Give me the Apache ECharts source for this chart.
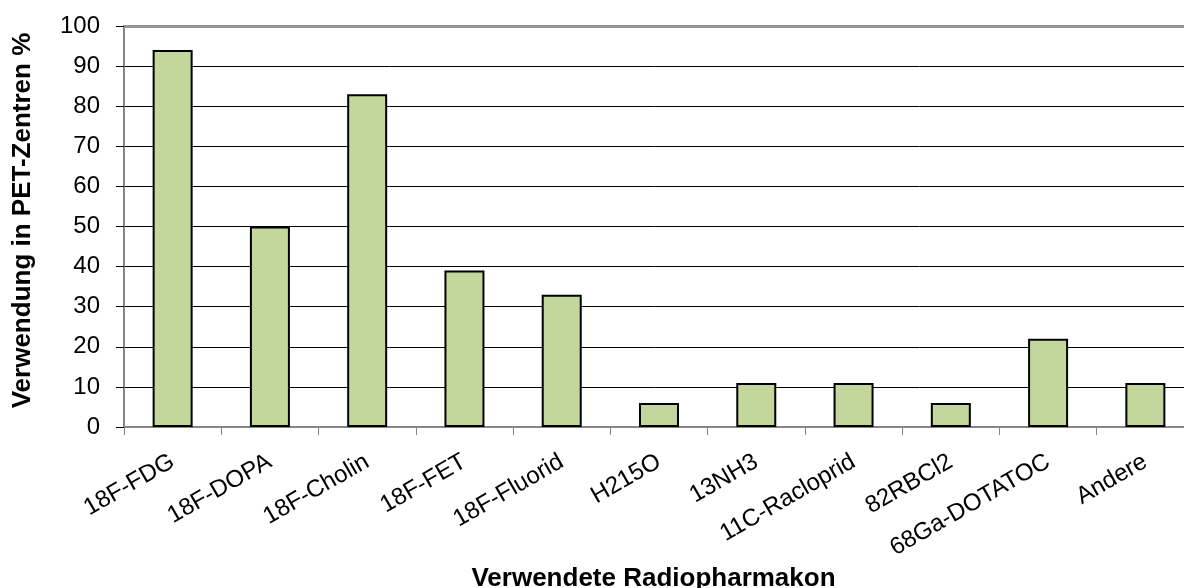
<!DOCTYPE html>
<html>
<head>
<meta charset="utf-8">
<script src="https://cdn.jsdelivr.net/npm/echarts@6/dist/echarts.min.js"></script>
<style>
  html, body { margin: 0; padding: 0; background: #fff; }
  #chart { width: 1184px; height: 588px; }
</style>
</head>
<body>
<div id="chart"></div>
<script>
// Radiopharmaceuticals used in PET centres
const categories = ['18F-FDG', '18F-DOPA', '18F-Cholin', '18F-FET', '18F-Fluorid', 'H215O', '13NH3', '11C-Racloprid', '82RBCl2', '68Ga-DOTATOC', 'Andere'];
const usagePercent = [94, 50, 83, 39, 33, 6, 11, 11, 6, 22, 11];
const yTicks = [0, 10, 20, 30, 40, 50, 60, 70, 80, 90, 100];

const font = 'Liberation Sans, Arial, sans-serif';
const chart = echarts.init(document.getElementById('chart'));
chart.setOption({
  animation: false,
  // plot runs slightly past the right edge of the canvas
  grid: { left: 124, top: 26, width: 1070, height: 401, containLabel: false, outerBoundsMode: 'none' },
  xAxis: {
    type: 'category',
    data: categories,
    name: 'Verwendete Radiopharmakon',
    nameLocation: 'middle',
    nameGap: 139,
    nameMoveOverlap: false,
    nameTextStyle: { fontFamily: font, fontSize: 26, fontWeight: 'bold', color: '#000', padding: [0, 11, 0, 0] },
    axisLine: { lineStyle: { color: '#868686', width: 2 } },
    axisTick: { show: true, length: 8, lineStyle: { color: '#868686', width: 1 } },
    axisLabel: { rotate: 30, fontFamily: font, fontSize: 24, color: '#000', margin: 33, interval: 0 }
  },
  yAxis: {
    type: 'value',
    min: yTicks[0],
    max: yTicks[yTicks.length - 1],
    interval: 10,
    name: 'Verwendung in PET-Zentren %',
    nameLocation: 'middle',
    nameGap: 88,
    nameMoveOverlap: false,
    nameTextStyle: { fontFamily: font, fontSize: 26, fontWeight: 'bold', color: '#000', padding: [0, 0, 0, 12] },
    axisLine: { show: true, lineStyle: { color: '#868686', width: 2 } },
    axisTick: { show: true, length: 8, lineStyle: { color: '#000', width: 1 } },
    axisLabel: { fontFamily: font, fontSize: 24, color: '#000', margin: 24 },
    splitLine: {
      show: true,
      lineStyle: {
        color: yTicks.map((t, i) => i === yTicks.length - 1 ? '#969696' : '#000'),
        width: 1
      }
    }
  },
  series: [{
    type: 'bar',
    data: usagePercent,
    barWidth: 40,
    itemStyle: { color: '#C3D69B', borderColor: '#000', borderWidth: 2 },
    // heavier grey border along the top of the plot area
    markLine: {
      silent: true,
      symbol: 'none',
      label: { show: false },
      lineStyle: { color: '#969696', width: 3, type: 'solid' },
      data: [{ yAxis: yTicks[yTicks.length - 1] }]
    }
  }]
});
</script>
</body>
</html>
